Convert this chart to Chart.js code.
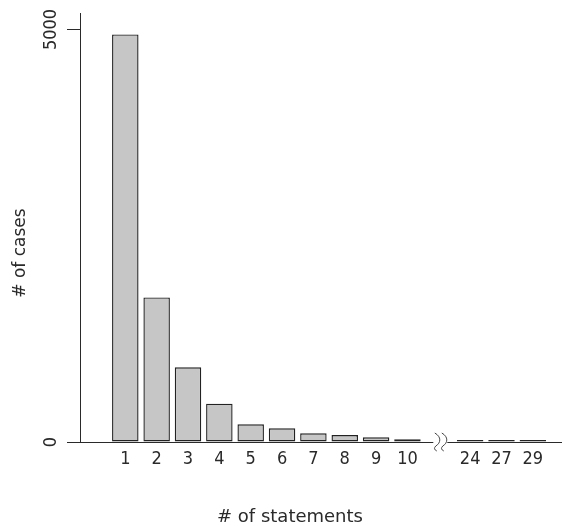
<!DOCTYPE html>
<html><head><meta charset="utf-8">
<script src="https://cdn.jsdelivr.net/npm/chart.js@4/dist/chart.umd.min.js"></script>
<style>html,body{margin:0;padding:0;background:#fff}</style>
</head><body>
<canvas id="c" width="562" height="526"></canvas>
<script>
// ---- data ----
const categories = ['1','2','3','4','5','6','7','8','9','10','24','27','29'];
const cases = [4940, 1753, 905, 465, 214, 166, 105, 85, 57, 33, 25, 25, 24];
const yTickValues = [0, 5000];
const xTitle = '# of statements';
const yTitle = '# of cases';
// slot positions: first ten consecutive, one empty slot for the axis break, then the rest
const positions = categories.map((c, i) => i < 10 ? i + 1 : i + 2);
const breakPos = 11;
const labelAt = {};
positions.forEach((p, i) => { labelAt[p] = categories[i]; });

const TICK_FONT = "'DejaVu Sans Condensed', 'DejaVu Sans', sans-serif";
const TITLE_FONT = "'DejaVu Sans', sans-serif";
const INK = '#2a2a2a';
const LINE = '#2a2a2a';

const decor = {
  id: 'decor',
  afterDraw(chart) {
    const {ctx, chartArea, scales: {x, y}} = chart;
    const y0 = y.getPixelForValue(0);
    const px = x.getPixelForValue(breakPos) + 1.5;
    ctx.save();
    // axis break
    ctx.fillStyle = '#fff';
    ctx.fillRect(px - 7, y0 - 2, 14, 4);
    ctx.strokeStyle = '#444';
    ctx.lineWidth = 1;
    for (const dx of [-3.5, 3.5]) {
      const cx = px + dx;
      ctx.beginPath();
      ctx.moveTo(cx - 2, y0 - 9);
      ctx.bezierCurveTo(cx + 5, y0 - 5, cx + 4, y0 + 1, cx - 1, y0 + 4);
      ctx.quadraticCurveTo(cx - 4, y0 + 7, cx, y0 + 9);
      ctx.stroke();
    }
    // axis titles
    ctx.fillStyle = INK;
    ctx.textAlign = 'center';
    ctx.textBaseline = 'alphabetic';
    ctx.font = '18px ' + TITLE_FONT;
    ctx.fillText(xTitle, chartArea.left + 210, chart.height - 4);
    ctx.font = '17px ' + TITLE_FONT;
    ctx.translate(25, chartArea.top + 240);
    ctx.rotate(-Math.PI / 2);
    ctx.fillText(yTitle, 0, 0);
    ctx.restore();
  }
};

new Chart(document.getElementById('c'), {
  type: 'bar',
  data: {
    datasets: [{
      data: positions.map((p, i) => ({x: p, y: cases[i]})),
      backgroundColor: '#c6c6c6',
      borderColor: '#222',
      borderWidth: 1.4,
      borderSkipped: false,
      barPercentage: 0.845,
      categoryPercentage: 1
    }]
  },
  options: {
    responsive: false,
    animation: false,
    devicePixelRatio: 1,
    layout: {padding: {top: 13, left: 0, right: 0, bottom: 0}},
    plugins: {legend: {display: false}, tooltip: {enabled: false}},
    scales: {
      x: {
        type: 'linear',
        min: -0.445,
        max: 14.93,
        offset: false,
        grid: {display: false, drawTicks: false},
        border: {display: true, color: LINE, width: 1},
        ticks: {
          autoSkip: false, maxRotation: 0, minRotation: 0, padding: 7,
          color: INK, font: {family: TICK_FONT, size: 18},
          callback: v => labelAt[v] ?? ''
        },
        afterBuildTicks: s => { s.ticks = positions.map(v => ({value: v})); },
        afterFit: s => { s.height = 84; }
      },
      y: {
        min: 0,
        max: 5200,
        grid: {display: true, drawOnChartArea: false, drawTicks: true, tickLength: 13, color: LINE, lineWidth: 1},
        border: {display: true, color: LINE, width: 1},
        ticks: {
          minRotation: 90, maxRotation: 90, crossAlign: 'center', padding: -4.5,
          color: INK, font: {family: TICK_FONT, size: 18},
          callback: v => String(v)
        },
        afterBuildTicks: s => { s.ticks = yTickValues.map(v => ({value: v})); },
        afterFit: s => { s.width = 80; }
      }
    }
  },
  plugins: [decor]
});
</script>
</body></html>
